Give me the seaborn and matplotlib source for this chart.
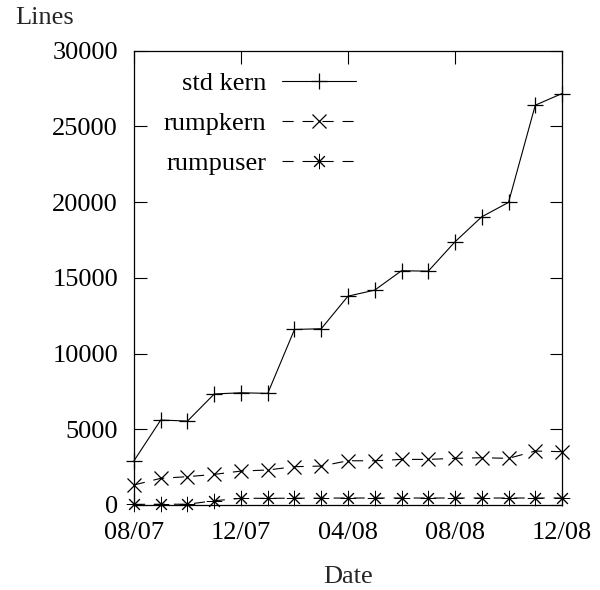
import matplotlib
matplotlib.use("Agg")
import matplotlib.pyplot as plt
import seaborn as sns
import pandas as pd

# ---- data ----
months = ["08/07", "09/07", "10/07", "11/07", "12/07", "01/08", "02/08", "03/08",
          "04/08", "05/08", "06/08", "07/08", "08/08", "09/08", "10/08", "11/08", "12/08"]
std_kern = [2920, 5610, 5540, 7330, 7410, 7370, 11590, 11640, 13790, 14190,
            15470, 15440, 17380, 19030, 19980, 26400, 27170]
rumpkern = [1320, 1760, 1870, 2020, 2240, 2310, 2530, 2570, 2920, 2920,
            3010, 3010, 3080, 3120, 3080, 3560, 3520]
rumpuser = [40, 50, 50, 280, 440, 440, 450, 450, 460, 460,
            460, 460, 460, 460, 460, 460, 460]
xtick_labels = ["08/07", "12/07", "04/08", "08/08", "12/08"]
ytick_values = [0, 5000, 10000, 15000, 20000, 25000, 30000]
series_names = ["std kern", "rumpkern", "rumpuser"]

df = pd.DataFrame({
    "idx": list(range(len(months))),
    "month": months,
    "std kern": std_kern,
    "rumpkern": rumpkern,
    "rumpuser": rumpuser,
})

sns.set_style("white")
plt.rcParams["font.family"] = ["Liberation Serif", "DejaVu Serif"]
FS = 19

fig = plt.figure(figsize=(6, 5.9), dpi=100)
ax = fig.add_axes([0.2233, 0.1441, 0.7134, 0.7700])

styles = {
    "std kern": dict(marker="+", markersize=11, linestyle="-", mew=0.9),
    "rumpkern": dict(marker="x", markersize=9.5, linestyle=(0, (10, 8)), mew=0.9),
    "rumpuser": dict(marker=(8, 2, 0), markersize=11, linestyle=(0, (10, 8)), mew=0.7),
}

for name in series_names:
    st = styles[name]
    sns.lineplot(data=df, x="idx", y=name, ax=ax, color="black",
                 linewidth=0.8, marker=st["marker"], markersize=st["markersize"],
                 markeredgecolor="black", markeredgewidth=st["mew"],
                 linestyle=st["linestyle"], label=name, clip_on=False)

ax.set_xlim(0, len(months) - 1)
ax.set_ylim(0, 30000)
tick_idx = [months.index(m) for m in xtick_labels]
ax.set_xticks(tick_idx)
ax.set_xticklabels(xtick_labels)
ax.set_yticks(ytick_values)
ax.set_yticklabels([str(v) for v in ytick_values])

ax.tick_params(axis="both", direction="in", length=9, width=0.8, color="black",
               labelsize=FS, labelcolor="black", top=True, right=True,
               bottom=True, left=True)
ax.tick_params(axis="x", pad=12)
ax.tick_params(axis="y", pad=11.5)

for sp in ax.spines.values():
    sp.set_visible(True)
    sp.set_color("black")
    sp.set_linewidth(0.9)

ax.set_xlabel("Date", fontsize=FS, labelpad=16)
ax.set_ylabel("")
fig.text(15 / 600, 1 - 18 / 590, "Lines", fontsize=FS, ha="left", va="center")

leg = ax.legend(loc="upper right", bbox_to_anchor=(356 / 600, 1 - 72 / 590),
                bbox_transform=fig.transFigure, frameon=False, markerfirst=False,
                fontsize=FS, handlelength=2.8, handletextpad=0.6,
                labelspacing=0.62, borderpad=0, borderaxespad=0)
for t in leg.get_texts():
    t.set_color("black")

fig.savefig("out.png", dpi=100, facecolor="white")
